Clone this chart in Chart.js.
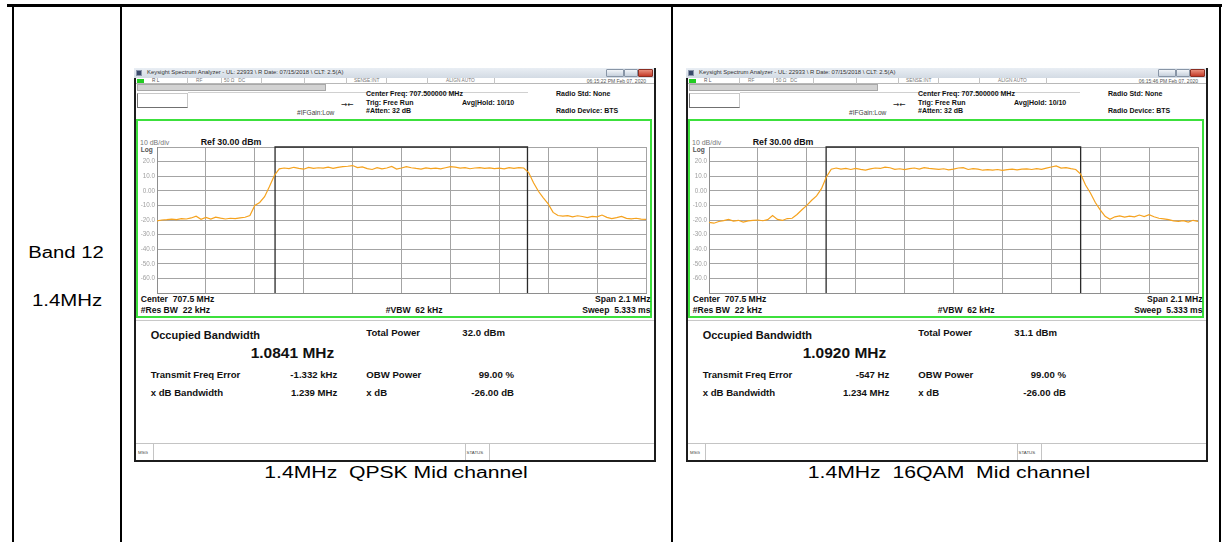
<!DOCTYPE html>
<html>
<head>
<meta charset="utf-8">
<script src="https://cdn.jsdelivr.net/npm/chart.js@4.4.1/dist/chart.umd.min.js"></script>
<style>
  html, body { margin: 0; padding: 0; background: #fff; }
  body { width: 1222px; height: 542px; overflow: hidden; position: relative;
         font-family: "Liberation Sans", Arial, sans-serif; }
  .abs { position: absolute; }
  .panel { position: absolute; top: 68px; width: 522px; height: 394px; background: #fff; }
</style>
</head>
<body>
<script>
"use strict";

// ── Data ───────────────────────────────────────────────────
const centerMHz  = 707.5;
const spanMHz    = 2.1;
const freqStep   = 0.021;               // 10 samples per division

// trace level (dBm), 101 samples from 706.45 to 708.55 MHz
const qpskLevel = [
  -20.6, -20.0, -19.8, -19.4, -19.7, -19.0, -19.3, -18.6, -17.4, -19.5,
  -18.2, -19.4, -18.0, -18.7, -19.3, -18.8, -19.1, -18.5, -18.1, -17.0,
  -10.0,  -8.0,  -4.0,   2.9,  10.5,  15.0,  15.6,  15.2,  16.1,  15.4,
   14.8,  16.0,  15.3,  15.8,  15.5,  16.2,  15.4,  16.0,  16.6,  16.8,
   17.3,  15.9,  16.4,  15.2,  14.6,  15.8,  15.0,  15.6,  16.7,  14.9,
   15.6,  16.6,  15.8,  15.3,  14.9,  15.7,  15.2,  15.5,  15.0,  15.8,
   16.5,  16.2,  15.6,  15.9,  15.1,  15.6,  15.9,  15.3,  15.7,  15.2,
   15.5,  15.0,  15.8,  15.4,  15.9,  15.6,  12.5,   5.5,  -0.3,  -4.8,
   -9.0, -14.8, -16.9, -17.4, -17.0, -17.8, -17.1, -17.6, -18.3, -17.5,
  -17.9, -16.6, -18.2, -19.0, -18.4, -17.6, -18.9, -19.2, -18.8, -19.4,
  -19.6
];
const qam16Level = [
  -21.6, -22.2, -21.0, -20.4, -19.6, -20.8, -20.2, -21.4, -20.6, -20.3,
  -20.0, -20.5, -19.8, -17.0, -19.6, -20.3, -19.0, -18.8, -16.2, -13.0,
  -10.0,  -6.5,  -3.5,   1.5,   9.5,  14.8,  15.6,  14.8,  15.3,  14.6,
   15.4,  14.7,  14.2,  15.0,  15.6,  15.3,  16.2,  15.8,  14.7,  15.1,
   14.5,  15.2,  15.6,  14.9,  15.8,  15.3,  15.0,  14.7,  15.1,  14.4,
   14.8,  15.6,  15.9,  14.6,  15.2,  14.8,  14.1,  14.5,  14.2,  14.6,
   14.0,  14.5,  14.9,  14.4,  14.8,  15.0,  14.6,  15.2,  14.7,  15.5,
   16.3,  17.0,  15.6,  15.9,  15.2,  14.6,  11.5,   4.0,  -1.5,  -8.0,
  -13.0, -17.5, -19.5, -17.8, -17.2, -18.0, -17.4, -17.9, -16.6, -17.6,
  -16.4, -17.8, -18.8, -19.2, -19.8, -20.6, -21.0, -20.4, -21.4, -20.2,
  -21.0
];

// occupied bandwidth edges (MHz)
const qpskObwEdges  = [706.957, 708.041];
const qam16ObwEdges = [706.953, 708.046];

// axis
const yGridDbm    = [30, 20, 10, 0, -10, -20, -30, -40, -50, -60, -70];
const yTickLabels = ["", "20.0", "10.0", "0.00", "-10.0", "-20.0", "-30.0", "-40.0", "-50.0", "-60.0", ""];

const freqMHz  = qpskLevel.map((_, i) => +(centerMHz - spanMHz / 2 + i * freqStep).toFixed(3));
const xGridMHz = yGridDbm.map((_, i) => +(centerMHz - spanMHz / 2 + i * spanMHz / 10).toFixed(3));

// panel texts
const panels = [
  { left: 134, level: qpskLevel, obw: qpskObwEdges, time: "06:15:22 PM Feb 07, 2020",
    obwText: "1.0841 MHz", totalPower: "32.0 dBm", freqErr: "-1.332 kHz", xdbBw: "1.239 MHz",
    caption: "1.4MHz  QPSK Mid channel", capX: 396, capW: 263 },
  { left: 686, level: qam16Level, obw: qam16ObwEdges, time: "06:15:46 PM Feb 07, 2020",
    obwText: "1.0920 MHz", totalPower: "31.1 dBm", freqErr: "-547 Hz", xdbBw: "1.234 MHz",
    caption: "1.4MHz  16QAM  Mid channel", capX: 949, capW: 282 },
];

// ── Helpers ───────────────────────────────────────────────
function box(parent, x, y, w, h, css) {
  const el = document.createElement("div");
  el.className = "abs";
  el.style.cssText += `left:${x}px;top:${y}px;width:${w}px;height:${h}px;${css || ""}`;
  parent.appendChild(el);
  return el;
}

function txt(parent, s, x, y, size, o = {}) {
  const el = document.createElement("div");
  el.className = "abs";
  el.textContent = s;
  const tx = o.align === "right" ? "-100%" : o.align === "center" ? "-50%" : "0";
  el.style.cssText += `left:${x}px;top:${y}px;font-size:${size}px;line-height:1;white-space:pre;` +
    `transform:translate(${tx},-50%);font-weight:${o.bold ? "bold" : "normal"};color:${o.color || "#111"};` +
    (o.family ? `font-family:${o.family};` : "");
  parent.appendChild(el);
  return el;
}

function stretchTo(el, width) {
  const k = width / el.offsetWidth;
  el.style.transform += ` scaleX(${k.toFixed(3)})`;
}

// ── Table frame ───────────────────────────────────────────
const body = document.body;
box(body, 7, 4, 1215, 3, "background:#000");
box(body, 12, 7, 2, 535, "background:#000");
box(body, 120, 7, 2, 535, "background:#000");
box(body, 671, 7, 2, 535, "background:#000");
box(body, 1219, 7, 2, 535, "background:#000");

stretchTo(txt(body, "Band 12", 66, 253, 16, { align: "center", color: "#000" }), 76);
stretchTo(txt(body, "1.4MHz", 67, 301, 16, { align: "center", color: "#000" }), 70);

// ── Analyzer screenshot ───────────────────────────────────
function buildPanel(p) {
  const pan = document.createElement("div");
  pan.className = "panel";
  pan.style.left = p.left + "px";
  body.appendChild(pan);

  // title bar
  box(pan, 0, 0, 522, 10, "background:linear-gradient(#e9eef4,#d3dbe4)");
  box(pan, 2, 2, 6, 6, "background:#3a4a6a;border:1px solid #8a96aa;box-sizing:border-box");
  txt(pan, "Keysight Spectrum Analyzer - UL: 22933 \\ R Date: 07/15/2018 \\ CLT: 2.5(A)", 13, 5, 5.9, { color: "#333" });
  box(pan, 472, 1, 18, 8, "background:linear-gradient(#f2f5f9,#c6d0dc);border:1px solid #8895a6;box-sizing:border-box;border-radius:1px");
  box(pan, 490, 1, 14, 8, "background:linear-gradient(#f2f5f9,#c6d0dc);border:1px solid #8895a6;box-sizing:border-box;border-radius:1px");
  box(pan, 504, 1, 15, 8, "background:linear-gradient(#e8907e,#c43a28);border:1px solid #8a2e22;box-sizing:border-box;border-radius:1px");

  // status row
  box(pan, 2, 10, 518, 5.5, "background:#fff;border-bottom:1px solid #b8b8b8;box-sizing:border-box");
  box(pan, 3, 10.5, 7, 4.5, "background:#22cc22");
  [53, 87, 127, 170, 212, 252, 293, 360].forEach(x => box(pan, x, 10, 1, 5.5, "background:#c4c4c4"));
  txt(pan, "R L", 18, 12.8, 4.8, { color: "#555" });
  txt(pan, "RF", 62, 12.8, 4.8, { color: "#777" });
  txt(pan, "50 Ω   DC", 90, 12.8, 4.8, { color: "#777" });
  txt(pan, "SENSE:INT", 220, 12.8, 4.8, { color: "#777" });
  txt(pan, "ALIGN AUTO", 312, 12.8, 4.8, { color: "#777" });
  txt(pan, p.time, 512, 12.8, 5, { align: "right", color: "#555" });

  // control boxes
  box(pan, 3, 16, 189, 7, "background:#d2d2d2;border:1px solid #a8a8a8;box-sizing:border-box");
  box(pan, 3, 24.5, 51, 15.5, "background:#fff;border:1px solid #707070;border-right-color:#c8c8c8;border-top-color:#c8c8c8;box-sizing:border-box");
  box(pan, 54, 23.5, 340, 1, "background:#d0d0d0");

  txt(pan, "#IFGain:Low", 163, 44.7, 6.6, { color: "#444" });
  txt(pan, "→←", 207, 37, 7.5, { color: "#222", family: "'DejaVu Sans'" });
  txt(pan, "Center Freq: 707.500000 MHz", 232, 24.7, 7, { bold: true });
  txt(pan, "Trig: Free Run", 232, 33.7, 7, { bold: true });
  txt(pan, "#Atten: 32 dB", 232, 42.3, 7, { bold: true });
  txt(pan, "Avg|Hold: 10/10", 328, 33.7, 7, { bold: true });
  txt(pan, "Radio Std: None", 422, 24.7, 7, { bold: true });
  txt(pan, "Radio Device: BTS", 422, 42.3, 7, { bold: true });

  // green display frame
  box(pan, 2, 51, 516, 199, "border:2px solid #3ce03c;box-sizing:border-box");
  box(pan, 2, 252, 518, 1, "background:#c8c8c8");
  txt(pan, "10 dB/div", 6, 73.7, 7, { color: "#777" });
  txt(pan, "Ref 30.00 dBm", 66.7, 73.7, 8.8, { bold: true });
  txt(pan, "Log", 6.7, 81.5, 6.6, { bold: true, color: "#555" });

  txt(pan, "Center  707.5 MHz", 6.7, 231.3, 8.6, { bold: true });
  txt(pan, "#Res BW  22 kHz", 6.7, 242, 8.6, { bold: true });
  txt(pan, "#VBW  62 kHz", 251.7, 242, 8.6, { bold: true });
  txt(pan, "Span 2.1 MHz", 516.5, 231.3, 8.6, { bold: true, align: "right" });
  txt(pan, "Sweep  5.333 ms", 516.5, 242, 8.6, { bold: true, align: "right" });

  // measurement results
  txt(pan, "Occupied Bandwidth", 16.7, 267, 11, { bold: true });
  txt(pan, p.obwText, 116.7, 285, 15.5, { bold: true });
  txt(pan, "Total Power", 232.3, 265.3, 9.6, { bold: true });
  txt(pan, p.totalPower, 328.3, 265.3, 9.6, { bold: true });
  txt(pan, "Transmit Freq Error", 16.7, 307, 9.6, { bold: true });
  txt(pan, p.freqErr, 203.3, 307, 9.6, { bold: true, align: "right" });
  txt(pan, "OBW Power", 232.3, 307, 9.6, { bold: true });
  txt(pan, "99.00 %", 380, 307, 9.6, { bold: true, align: "right" });
  txt(pan, "x dB Bandwidth", 16.7, 324.7, 9.6, { bold: true });
  txt(pan, p.xdbBw, 203.3, 324.7, 9.6, { bold: true, align: "right" });
  txt(pan, "x dB", 232.3, 324.7, 9.6, { bold: true });
  txt(pan, "-26.00 dB", 380, 324.7, 9.6, { bold: true, align: "right" });

  // status bar
  box(pan, 2, 375, 518, 1, "background:#c4c4c4");
  [19, 331, 355].forEach(x => box(pan, x, 376, 1, 16, "background:#c4c4c4"));
  txt(pan, "MSG", 4, 384.7, 4.4, { color: "#444" });
  txt(pan, "STATUS", 332.5, 384.7, 4.4, { color: "#444" });

  // outer dark border
  box(pan, 0, 10, 2, 384, "background:#1c1c1c");
  box(pan, 520, 0, 2, 394, "background:#1c1c1c");
  box(pan, 0, 392, 522, 2, "background:#1c1c1c");

  // caption under the screenshot
  stretchTo(txt(body, p.caption, p.capX, 473, 16, { align: "center", color: "#000" }), p.capW);

  // ── Chart ──
  const cv = document.createElement("canvas");
  cv.width = 509; cv.height = 148;
  cv.style.cssText = "position:absolute;left:5px;top:78px;width:509px;height:148px";
  pan.appendChild(cv);

  new Chart(cv.getContext("2d"), {
    type: "line",
    data: {
      datasets: [
        {
          data: freqMHz.map((f, i) => ({ x: f, y: p.level[i] })),
          borderColor: "#f5a21e",
          borderWidth: 1.2,
          pointRadius: 0,
          tension: 0,
        },
        {
          data: [
            { x: p.obw[0], y: -70 }, { x: p.obw[0], y: 30 },
            { x: p.obw[1], y: 30 },  { x: p.obw[1], y: -70 },
          ],
          borderColor: "#2a2a2a",
          borderWidth: 1.3,
          pointRadius: 0,
          tension: 0,
          clip: 2,
        },
      ],
    },
    options: {
      responsive: false,
      animation: false,
      devicePixelRatio: 1,
      layout: { padding: { top: 1, right: 2, bottom: 1, left: 0 } },
      plugins: { legend: { display: false }, tooltip: { enabled: false } },
      scales: {
        x: {
          type: "linear",
          min: xGridMHz[0],
          max: xGridMHz[xGridMHz.length - 1],
          afterBuildTicks: s => { s.ticks = xGridMHz.map(v => ({ value: v })); },
          afterFit: s => { s.height = 0; s.paddingLeft = 0; s.paddingRight = 0; },
          ticks: { display: false },
          grid: { color: "#a4a4a4", lineWidth: 1, drawTicks: false },
          border: { color: "#8e8e8e" },
        },
        y: {
          min: -70,
          max: 30,
          afterBuildTicks: s => { s.ticks = yGridDbm.map(v => ({ value: v })); },
          afterFit: s => { s.width = 18; s.paddingTop = 0; s.paddingBottom = 0; },
          ticks: {
            padding: 2,
            color: "#a0a0a0",
            font: { family: "Liberation Sans", size: 6.3 },
            callback: v => yTickLabels[yGridDbm.indexOf(v)] ?? "",
          },
          grid: { color: "#a4a4a4", lineWidth: 1, drawTicks: false },
          border: { color: "#8e8e8e" },
        },
      },
    },
  });
}

panels.forEach(buildPanel);
</script>
</body>
</html>
